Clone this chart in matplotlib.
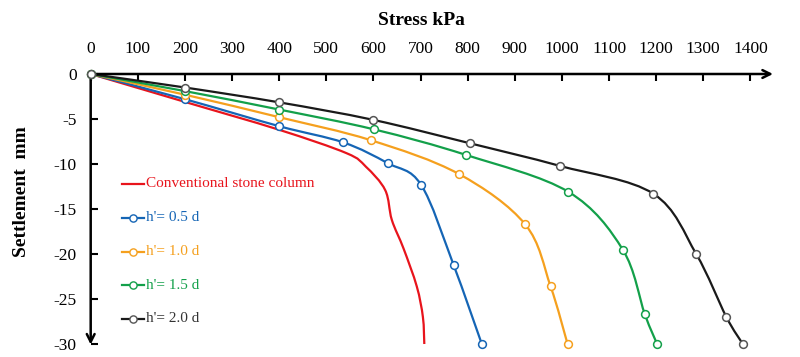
import numpy as np
import matplotlib
matplotlib.use("Agg")
import matplotlib.pyplot as plt
from matplotlib.path import Path
from matplotlib.patches import PathPatch
from matplotlib.lines import Line2D

plt.rcParams['font.family'] = ['Liberation Serif', 'DejaVu Serif']

# ---- data ----
conv_x = [0, 200, 400, 543, 584, 625, 639, 664, 692, 705, 708]
conv_y = [0, -3.1, -6.2, -8.8, -10.3, -12.9, -16.2, -19.4, -23.6, -27.0, -30.0]

h05_x = [0, 200, 400, 536, 630, 701, 770, 830]
h05_y = [0, -2.8, -5.8, -7.6, -9.9, -12.3, -21.2, -30.0]

h10_x = [0, 200, 400, 594, 781, 922, 976, 1012]
h10_y = [0, -2.3, -4.8, -7.35, -11.1, -16.7, -23.6, -30.0]

h15_x = [0, 200, 400, 601, 797, 1014, 1129, 1176, 1202]
h15_y = [0, -1.9, -3.95, -6.15, -9.0, -13.1, -19.5, -26.7, -30.0]

h20_x = [0, 200, 400, 600, 805, 995, 1194, 1285, 1349, 1384]
h20_y = [0, -1.5, -3.15, -5.1, -7.7, -10.2, -13.3, -20.0, -27.0, -30.0]

labels = ["Conventional stone column", "h'= 0.5 d", "h'= 1.0 d", "h'= 1.5 d", "h'= 2.0 d"]
colors = ['#E8141C', '#1565B5', '#F5A01E', '#13A04A', '#1A1A1A']
text_colors = ['#E8141C', '#1565B5', '#F5A01E', '#13A04A', '#333333']

xticks = list(range(0, 1401, 100))
yticks = [0, -5, -10, -15, -20, -25, -30]

W, H = 800, 357
fig = plt.figure(figsize=(W / 100, H / 100), dpi=100)
x0p, x1p = 90.7, 773.0
y0p = 74.0
ppu_y = 9.0
ybot = -30.25
ybp = y0p + (-ybot) * ppu_y
ax = fig.add_axes([x0p / W, 1 - ybp / H, (x1p - x0p) / W, (ybp - y0p) / H])
xmax = (x1p - x0p) / 0.4712
ax.set_xlim(0, xmax)
ax.set_ylim(ybot, 0)


def smooth_path(xs, ys):
    P = np.column_stack([xs, ys]).astype(float)
    n = len(P)
    verts = [P[0]]
    codes = [Path.MOVETO]
    for i in range(n - 1):
        p0 = P[i - 1] if i > 0 else P[i]
        p1 = P[i]
        p2 = P[i + 1]
        p3 = P[i + 2] if i + 2 < n else P[i + 1]
        c1 = p1 + (p2 - p0) / 6.0
        c2 = p2 - (p3 - p1) / 6.0
        verts += [c1, c2, p2]
        codes += [Path.CURVE4] * 3
    return Path(verts, codes)


series = [(conv_x, conv_y), (h05_x, h05_y), (h10_x, h10_y), (h15_x, h15_y), (h20_x, h20_y)]
for k, (xs, ys) in enumerate(series):
    patch = PathPatch(smooth_path(xs, ys), facecolor='none', edgecolor=colors[k],
                      lw=1.6, clip_on=False, zorder=2 + k * 0.01)
    ax.add_patch(patch)
for k, (xs, ys) in enumerate(series):
    if k == 0:
        continue
    ax.plot(xs, ys, linestyle='none', marker='o', ms=5.6, mfc='white',
            mec=colors[k] if k < 4 else '#555555', mew=1.1, clip_on=False, zorder=4)

# axes styling
for s in ['right', 'bottom', 'top', 'left']:
    ax.spines[s].set_visible(False)
ax.xaxis.set_ticks_position('top')
ax.xaxis.set_label_position('top')
ax.set_xticks(xticks)
ax.set_xticklabels([str(v) for v in xticks])
ax.set_yticks(yticks)
ax.set_yticklabels([str(v) for v in yticks])
ax.tick_params(axis='x', direction='in', length=5, width=1.5, pad=12, labelsize=12.5, colors='black')
ax.tick_params(axis='y', direction='in', length=5, width=1.5, pad=10, labelsize=12.5, colors='black')

# arrow axes
ax.annotate('', xy=(1.0, 1.0), xytext=(0.0, 1.0), xycoords='axes fraction',
            arrowprops=dict(arrowstyle='->', lw=1.8, color='black', mutation_scale=14,
                            shrinkA=0, shrinkB=0))
ax.annotate('', xy=(0.0, 0.006), xytext=(0.0, 1.0), xycoords='axes fraction',
            arrowprops=dict(arrowstyle='->', lw=1.8, color='black', mutation_scale=14,
                            shrinkA=0, shrinkB=0))

# titles
fig.text(421 / W, 1 - 20.5 / H, 'Stress kPa', ha='center', va='center',
         fontsize=14, fontweight='bold')
fig.text(22 / W, 1 - 192 / H, 'Settlement  mm', ha='center', va='center',
         rotation=90, fontsize=14, fontweight='bold')

# manual legend
leg_y = [184, 217.7, 251.7, 285.3, 319]
for k in range(5):
    yy = 1 - leg_y[k] / H
    fig.add_artist(Line2D([122 / W, 144 / W], [yy, yy], color=colors[k], lw=1.6))
    if k > 0:
        fig.add_artist(Line2D([133 / W], [yy], marker='o', ms=5.2, mfc='white',
                              mec=colors[k] if k < 4 else '#555555', mew=1.0, linestyle='none'))
    fig.text(146 / W, yy, labels[k], color=text_colors[k], fontsize=11, ha='left', va='center')

fig.savefig('out.png', dpi=100)
